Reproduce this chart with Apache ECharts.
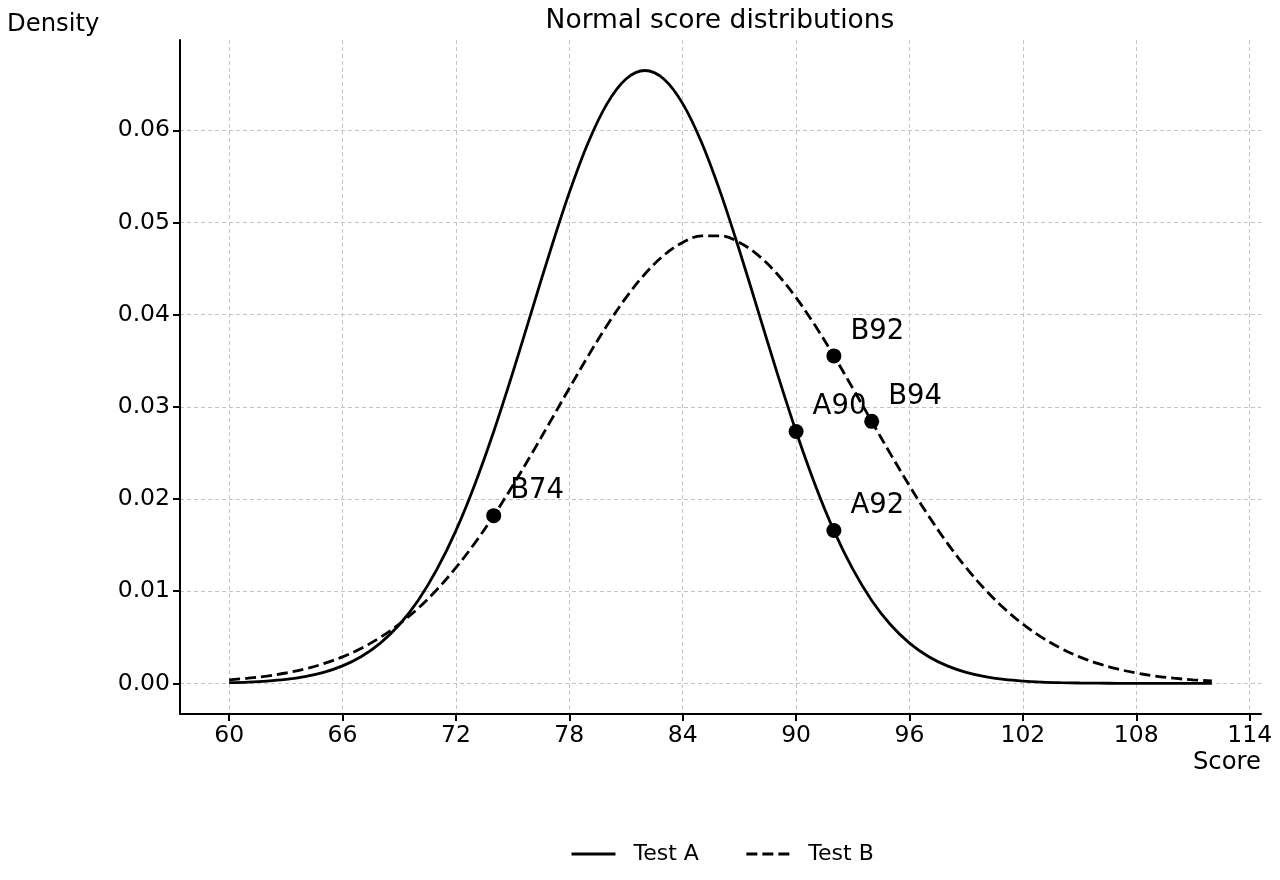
<!DOCTYPE html>
<html>
<head>
<meta charset="utf-8">
<script src="https://cdn.jsdelivr.net/npm/echarts@6/dist/echarts.min.js"></script>
<style>
  html, body { margin: 0; padding: 0; background: #fff; }
  #main { width: 1280px; height: 880px; }
</style>
</head>
<body>
<div id="main"></div>
<script>
// scores on the x axis (one point per integer score)
var scores = [];
for (var s = 60; s <= 112; s++) scores.push(s);

// densities
var densityA = [
  0.00008, 0.000145, 0.000257, 0.000442, 0.000739, 0.00120, 0.00190, 0.00292, 0.00437, 0.00636,
  0.00900, 0.01239, 0.01658, 0.02159, 0.02733, 0.03366, 0.04033, 0.04698, 0.05324, 0.05868,
  0.06290, 0.06557, 0.06649, 0.06557, 0.06290, 0.05868, 0.05324, 0.04698, 0.04033, 0.03366,
  0.02733, 0.02159, 0.01658, 0.01239, 0.00900, 0.00636, 0.00437, 0.00292, 0.00190, 0.00120,
  0.000739, 0.000442, 0.000257, 0.000145, 0.00008, 0.000043, 0.000022, 0.000011, 0.000005, 0.000002,
  0.000001, 0, 0
];
var densityB = [
  0.000387, 0.000561, 0.000801, 0.001128, 0.001564, 0.002138, 0.002879, 0.003818, 0.004991, 0.006427,
  0.00815, 0.01019, 0.01255, 0.01522, 0.01820, 0.02143, 0.02487, 0.02843, 0.03202, 0.03553,
  0.03885, 0.04185, 0.04441, 0.04644, 0.04784, 0.04856, 0.04856, 0.04784, 0.04644, 0.04441,
  0.04185, 0.03885, 0.03553, 0.03202, 0.02843, 0.02487, 0.02143, 0.01820, 0.01522, 0.01255,
  0.01019, 0.00815, 0.006427, 0.004991, 0.003818, 0.002879, 0.002138, 0.001564, 0.001128, 0.000801,
  0.000561, 0.000387, 0.000263
];

// highlighted points
var markLabels = ["B74", "B92", "B94", "A90", "A92"];
var markX = [74, 92, 94, 90, 92];
var markY = [0.0182, 0.03553, 0.02843, 0.02733, 0.01658];

var xTicks = [60, 66, 72, 78, 84, 90, 96, 102, 108, 114];
var yTicks = [0, 0.01, 0.02, 0.03, 0.04, 0.05, 0.06];

var FONT = "DejaVu Sans";

function pairs(xs, ys) {
  return xs.map(function(x, i) { return [x, ys[i]]; });
}

var myChart = echarts.init(document.getElementById("main"));
myChart.setOption({
  animation: false,
  title: {
    text: "Normal score distributions",
    left: 715,
    top: 3,
    textAlign: "center",
    textStyle: { fontFamily: FONT, fontSize: 26.5, fontWeight: "normal", color: "#000" }
  },
  grid: { left: 180, right: 19, top: 40, bottom: 166 },
  legend: {
    bottom: 10,
    left: 565,
    data: ["Test A", "Test B"],
    itemWidth: 44,
    itemHeight: 14,
    itemGap: 46,
    itemStyle: { opacity: 0 },
    lineStyle: { width: 3 },
    textStyle: { fontFamily: FONT, fontSize: 22, color: "#000", padding: [0, 0, 0, 13] }
  },
  graphic: [
    {
      type: "text", left: 7, top: 13,
      style: { text: "Density", fontFamily: FONT, fontSize: 24.3, fill: "#000" }
    },
    {
      type: "text", right: 19, top: 751,
      style: { text: "Score", fontFamily: FONT, fontSize: 24.3, fill: "#000" }
    }
  ],
  xAxis: {
    type: "value",
    min: 57.4,
    max: 114.6,
    axisLine: { show: true, onZero: false, lineStyle: { color: "#000", width: 2 } },
    axisTick: { show: true, customValues: xTicks, length: 7, lineStyle: { color: "#000", width: 2 } },
    axisLabel: { customValues: xTicks, fontFamily: FONT, fontSize: 23.5, color: "#000", margin: 10 },
    splitLine: { show: true, lineStyle: { color: "#c4c4c4", type: [4, 3], width: 1 } }
  },
  yAxis: {
    type: "value",
    min: -0.00332,
    max: 0.0698,
    axisLine: { show: true, onZero: false, lineStyle: { color: "#000", width: 2 } },
    axisTick: { show: true, customValues: yTicks, length: 7, lineStyle: { color: "#000", width: 2 } },
    axisLabel: {
      customValues: yTicks, fontFamily: FONT, fontSize: 23.5, color: "#000", margin: 10,
      formatter: function(v) { return v.toFixed(2); }
    },
    splitLine: { show: true, lineStyle: { color: "#c4c4c4", type: [4, 3], width: 1 } }
  },
  series: [
    {
      name: "Test A",
      type: "line",
      data: pairs(scores, densityA),
      symbol: "none",
      smooth: 0.35,
      lineStyle: { color: "#000", width: 2.8 },
      itemStyle: { color: "#000" }
    },
    {
      name: "Test B",
      type: "line",
      data: pairs(scores, densityB),
      symbol: "none",
      smooth: 0.35,
      lineStyle: { color: "#000", width: 2.8, type: [11, 5] },
      itemStyle: { color: "#000" }
    },
    {
      name: "points",
      type: "scatter",
      symbolSize: 15,
      itemStyle: { color: "#000", opacity: 1 },
      z: 5,
      data: markX.map(function(x, i) {
        return { value: [x, markY[i]], name: markLabels[i] };
      }),
      label: {
        show: true,
        position: [24, -17],
        verticalAlign: "middle",
        formatter: "{b}",
        fontFamily: FONT,
        fontSize: 27.5,
        color: "#000"
      }
    }
  ]
});
</script>
</body>
</html>
